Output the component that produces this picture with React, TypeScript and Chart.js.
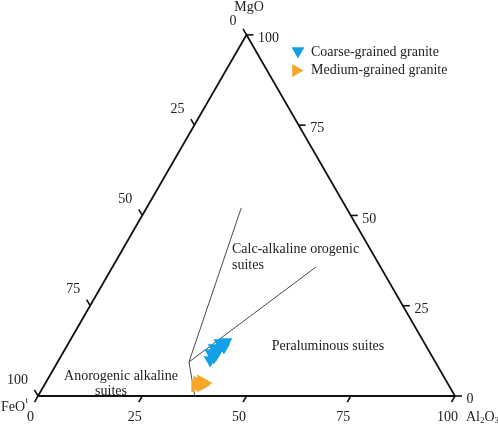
import React, { useEffect, useRef } from 'react';
import { Chart, registerables } from 'chart.js';

Chart.register(...registerables);

// Ternary diagram FeOt – MgO – Al2O3 (values in %)
const tickValues = [0, 25, 50, 75, 100];

// Coarse-grained granite (Al2O3, MgO); FeOt = 100 - Al2O3 - MgO
const coarseAl = [37.6, 36.3, 35.6, 36.9, 37.8, 35.5, 36.9, 36.3, 36.8, 37.2];
const coarseMg = [14.95, 14.68, 13.29, 13.02, 13.57, 11.91, 11.63, 9.97, 10.8, 14.2];

// Medium-grained granite
const mediumAl = [38.2, 37.0, 36.2, 36.3, 37.5, 38.0];
const mediumMg = [3.6, 4.15, 3.88, 2.77, 2.77, 3.05];

// Field boundaries: three lines from a common junction
const junctionAl = 31.5;
const junctionMg = 9.42;
const boundaryEndAl = [37.6, 22.7, 48.8];
const boundaryEndMg = [0, 52.06, 35.72];

// Triangle outline corners (Al2O3, MgO)
const outlineAl = [0, 100, 0, 0];
const outlineMg = [0, 0, 100, 0];

const H = Math.sqrt(3) / 2;
const toXY = (al: number, mg: number) => ({ x: al + mg / 2, y: mg * H });

const BLUE = '#14a0e6';
const ORANGE = '#f8a629';
const FONT = '"Liberation Serif", "Times New Roman", serif';

const overlayPlugin = {
  id: 'ternaryOverlay',
  afterDatasetsDraw(chart: any) {
    const ctx = chart.ctx as CanvasRenderingContext2D;
    const sx = chart.scales.x;
    const sy = chart.scales.y;
    const P = (al: number, mg: number) => {
      const c = toXY(al, mg);
      return { x: sx.getPixelForValue(c.x), y: sy.getPixelForValue(c.y) };
    };
    ctx.save();
    ctx.strokeStyle = '#111';
    ctx.lineWidth = 1.6;
    ctx.fillStyle = '#222';
    ctx.textBaseline = 'middle';
    ctx.font = `14px ${FONT}`;
    const tl = 7;
    tickValues.forEach((v) => {
      // bottom axis: Al2O3
      let p = P(v, 0);
      ctx.beginPath();
      ctx.moveTo(p.x, p.y);
      ctx.lineTo(p.x - 0.5 * tl, p.y + H * tl);
      ctx.stroke();
      ctx.textAlign = 'center';
      ctx.fillText(String(v), p.x - 7.5, p.y + 21);
      // right axis: MgO
      p = P(100 - v, v);
      ctx.beginPath();
      ctx.moveTo(p.x, p.y);
      ctx.lineTo(p.x + tl, p.y);
      ctx.stroke();
      ctx.textAlign = 'left';
      ctx.fillText(String(v), p.x + 11.5, p.y + 3.5);
      // left axis: FeOt
      p = P(0, 100 - v);
      ctx.beginPath();
      ctx.moveTo(p.x, p.y);
      ctx.lineTo(p.x - 0.5 * tl, p.y - H * tl);
      ctx.stroke();
      ctx.textAlign = 'right';
      ctx.fillText(String(v), p.x - 10, p.y - (v === 0 ? 14 : 16));
    });

    // Corner labels
    ctx.textAlign = 'center';
    ctx.fillText('MgO', 249, 7);
    ctx.textAlign = 'left';
    ctx.fillText('FeO', 1, 407);
    let w = ctx.measureText('FeO').width;
    ctx.font = `9px ${FONT}`;
    ctx.fillText('t', 1 + w + 0.5, 401);
    ctx.font = `14px ${FONT}`;
    let x = 466;
    ctx.fillText('Al', x, 417);
    x += ctx.measureText('Al').width;
    ctx.font = `9px ${FONT}`;
    ctx.fillText('2', x, 421);
    x += ctx.measureText('2').width;
    ctx.font = `14px ${FONT}`;
    ctx.fillText('O', x, 417);
    x += ctx.measureText('O').width;
    ctx.font = `9px ${FONT}`;
    ctx.fillText('3', x, 421);
    ctx.font = `14px ${FONT}`;

    // Field labels
    ctx.textAlign = 'left';
    ctx.fillText('Calc-alkaline orogenic', 232, 249);
    ctx.fillText('suites', 232, 265);
    ctx.textAlign = 'center';
    ctx.fillText('Peraluminous suites', 328, 346);
    ctx.fillText('Anorogenic alkaline', 121, 376);
    ctx.fillText('suites', 111, 391);

    // Legend
    const tri = (cx: number, cy: number, r: number, rotDeg: number, color: string) => {
      let rad = (rotDeg * Math.PI) / 180;
      ctx.beginPath();
      for (let i = 0; i < 3; i++) {
        const px = cx + Math.sin(rad) * r;
        const py = cy - Math.cos(rad) * r;
        if (i === 0) ctx.moveTo(px, py);
        else ctx.lineTo(px, py);
        rad += (2 * Math.PI) / 3;
      }
      ctx.closePath();
      ctx.fillStyle = color;
      ctx.fill();
    };
    tri(298, 51, 7.5, 180, BLUE);
    tri(296, 70.5, 7.5, 90, ORANGE);
    ctx.fillStyle = '#222';
    ctx.textAlign = 'left';
    ctx.fillText('Coarse-grained granite', 311, 52);
    ctx.fillText('Medium-grained granite', 311, 70.5);
    ctx.restore();
  },
};

export default function App() {
  const canvasRef = useRef<HTMLCanvasElement | null>(null);

  useEffect(() => {
    if (!canvasRef.current) return;
    const outline = outlineAl.map((a, i) => toXY(a, outlineMg[i]));
    const boundaries = boundaryEndAl.map((a, i) => ({
      type: 'scatter' as const,
      data: [toXY(junctionAl, junctionMg), toXY(a, boundaryEndMg[i])],
      showLine: true,
      borderColor: '#4a4a4a',
      borderWidth: 1,
      pointRadius: 0,
      clip: false as const,
    }));
    const chart = new Chart(canvasRef.current, {
      type: 'scatter',
      data: {
        datasets: [
          {
            label: 'Coarse-grained granite',
            data: coarseAl.map((a, i) => toXY(a, coarseMg[i])),
            pointStyle: 'triangle',
            rotation: 180,
            pointRadius: 7.5,
            backgroundColor: BLUE,
            borderColor: BLUE,
            borderWidth: 0,
            clip: false,
          } as any,
          {
            label: 'Medium-grained granite',
            data: mediumAl.map((a, i) => toXY(a, mediumMg[i])),
            pointStyle: 'triangle',
            rotation: 90,
            pointRadius: 7.5,
            backgroundColor: ORANGE,
            borderColor: ORANGE,
            borderWidth: 0,
            clip: false,
          } as any,
          ...boundaries,
          {
            type: 'scatter',
            data: outline,
            showLine: true,
            borderColor: '#111',
            borderWidth: 1.8,
            pointRadius: 0,
            clip: false,
          } as any,
        ],
      },
      options: {
        animation: false,
        responsive: false,
        maintainAspectRatio: false,
        layout: { padding: 0, autoPadding: false },
        plugins: {
          legend: { display: false },
          tooltip: { enabled: false },
        },
        scales: {
          x: { type: 'linear', min: -38 / 4.17, max: 460 / 4.17, display: false },
          y: { type: 'linear', min: -28 / 4.17, max: 396 / 4.17, display: false },
        },
      },
      plugins: [overlayPlugin],
    });
    return () => chart.destroy();
  }, []);

  return (
    <div style={{ position: 'absolute', left: 0, top: 0, width: 498, height: 424, background: '#fff' }}>
      <canvas ref={canvasRef} width={498} height={424} style={{ display: 'block' }} />
    </div>
  );
}
